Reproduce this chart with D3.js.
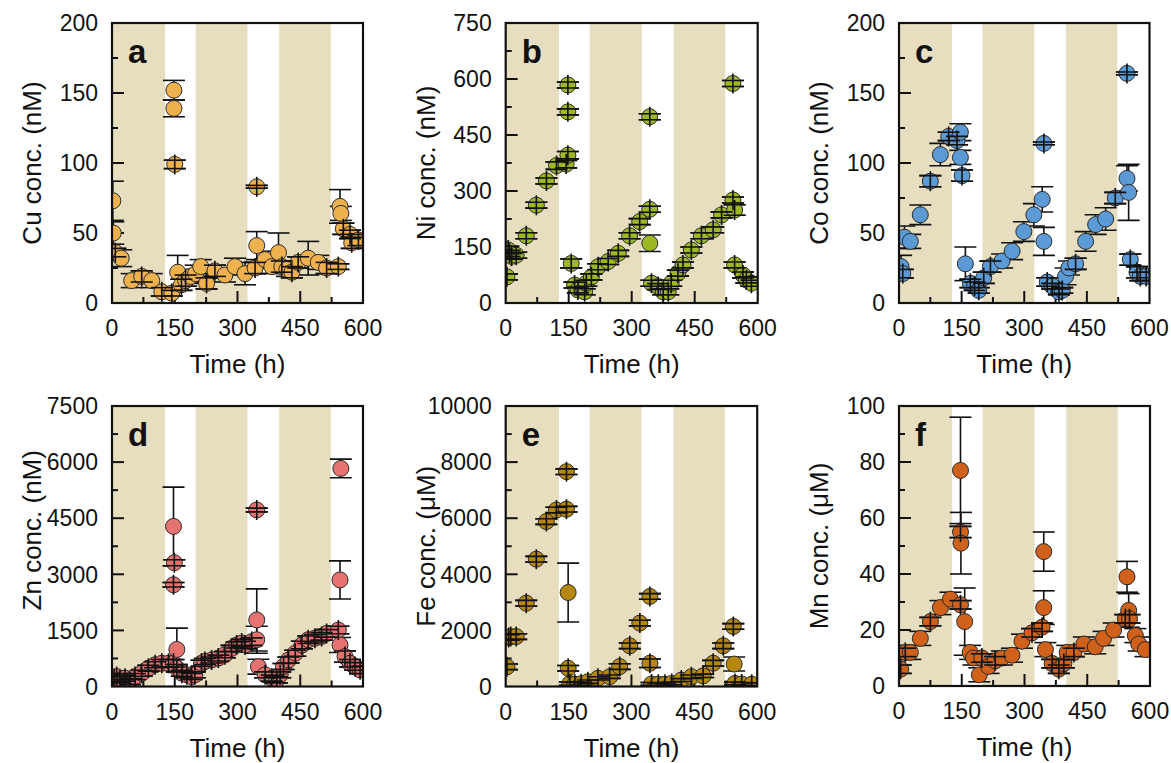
<!DOCTYPE html>
<html><head><meta charset="utf-8">
<script src="https://cdn.jsdelivr.net/npm/d3@7"></script>
<style>
body{margin:0;background:#fff}
svg{display:block}
text{font-family:"Liberation Sans",Arial,sans-serif;fill:#111}
</style>
</head><body>
<svg id="chart" width="1171" height="763"></svg>
<script>
// ---------------- data ----------------
const timeTicks = [0, 150, 300, 450, 600];
const shadedPeriods = [[0, 127], [200, 324], [400, 523]];

const cuTime = [2, 3, 8, 22, 47, 71, 95, 119, 143, 148, 148, 150, 157, 166, 176, 188, 200, 212, 226, 246, 270, 294, 318, 342, 346, 346, 366, 382, 398, 406, 418, 430, 445, 469, 493, 513, 541, 545, 547, 553, 569, 573, 589];
const cuConc = [73, 50, 36, 32, 16, 19, 16, 8, 7, 152, 139, 99, 22, 13, 16, 19, 21, 26, 14, 23, 20, 26, 21, 25, 41, 83, 31, 26, 36, 26, 24, 22, 29, 32, 29, 25, 26, 69, 64, 53, 49, 43, 45];
const cuErr  = [14, 8, 3, 6, 5, 4, 5, 3, 2, 7, 6, 3, 12, 4, 4, 5, 6, 5, 4, 4, 5, 6, 8, 4, 10, 1, 6, 5, 14, 4, 5, 4, 4, 12, 5, 4, 2, 12, 5, 4, 3, 4, 4];

const niTime = [3, 6, 9, 14, 25, 49, 73, 97, 121, 144, 148, 148, 148, 156, 164, 172, 188, 192, 204, 220, 244, 268, 295, 319, 343, 343, 343, 347, 363, 375, 387, 394, 410, 422, 442, 466, 494, 514, 541, 541, 545, 545, 565, 573, 585];
const niConc = [70, 142, 133, 125, 128, 180, 262, 327, 368, 372, 396, 584, 512, 106, 48, 35, 30, 53, 70, 97, 111, 133, 180, 218, 251, 160, 499, 53, 44, 30, 30, 53, 80, 102, 142, 180, 196, 236, 276, 588, 249, 102, 75, 62, 53];
const niErr  = [8, 10, 8, 8, 8, 8, 8, 8, 10, 10, 10, 8, 8, 12, 8, 8, 8, 8, 8, 8, 8, 8, 8, 8, 8, 22, 8, 8, 8, 8, 8, 8, 8, 8, 8, 8, 8, 8, 8, 8, 14, 8, 8, 8, 8];

const coTime = [5, 9, 13, 27, 51, 75, 99, 119, 139, 147, 147, 151, 159, 171, 181, 191, 203, 219, 247, 271, 299, 323, 343, 347, 347, 355, 367, 383, 391, 399, 407, 423, 447, 471, 495, 518, 546, 550, 546, 554, 570, 578, 592];
const coConc = [26, 21, 47, 44, 63, 87, 106, 119, 116, 122, 104, 91, 28, 14, 12, 9, 18, 26, 30, 37, 51, 63, 74, 44, 114, 15, 12, 8, 9, 19, 25, 28, 44, 56, 60, 75, 89, 79, 164, 31, 22, 19, 19];
const coErr  = [8, 3, 8, 5, 7, 4, 8, 3, 3, 6, 5, 4, 12, 3, 3, 2, 4, 4, 5, 6, 7, 8, 9, 10, 1, 3, 2, 2, 2, 6, 5, 4, 7, 7, 8, 4, 9, 20, 1, 4, 4, 3, 3];

const znTime = [5, 11, 19, 31, 43, 55, 71, 87, 103, 119, 135, 147, 147, 149, 147, 155, 155, 167, 179, 190, 198, 214, 222, 238, 254, 270, 286, 298, 310, 318, 334, 346, 346, 346, 350, 366, 382, 394, 402, 410, 422, 438, 454, 469, 485, 501, 513, 541, 545, 547, 545, 557, 569, 581, 593];
const znConc = [200, 267, 178, 223, 134, 267, 356, 490, 580, 620, 620, 620, 4280, 3310, 2720, 990, 490, 356, 312, 267, 312, 620, 670, 710, 760, 850, 1020, 1110, 1160, 1110, 1200, 1250, 1780, 4720, 530, 312, 223, 178, 312, 534, 710, 890, 1110, 1250, 1290, 1340, 1420, 1510, 1110, 5830, 2850, 800, 620, 534, 445];
const znErr  = [80, 80, 80, 80, 80, 80, 80, 80, 80, 100, 100, 100, 1050, 80, 60, 570, 100, 80, 80, 80, 80, 80, 80, 80, 80, 80, 80, 80, 100, 100, 100, 360, 830, 50, 200, 80, 80, 80, 80, 80, 80, 80, 100, 100, 100, 100, 100, 100, 200, 250, 510, 150, 100, 100, 100];

const feTime = [3, 7, 12, 25, 49, 73, 97, 121, 145, 145, 149, 149, 153, 165, 180, 196, 220, 248, 272, 296, 320, 344, 344, 348, 364, 380, 396, 419, 443, 471, 495, 519, 543, 545, 547, 563, 587];
const feConc = [700, 1750, 1780, 1780, 2970, 4540, 5880, 6290, 6320, 7660, 3350, 650, 100, 80, 100, 170, 290, 350, 710, 1450, 2260, 3210, 830, 90, 80, 80, 110, 230, 350, 380, 830, 1450, 2140, 800, 110, 90, 80];
const feErr  = [100, 100, 100, 100, 100, 100, 100, 100, 100, 100, 1050, 100, 60, 60, 60, 60, 60, 60, 100, 100, 100, 100, 150, 50, 50, 50, 50, 50, 60, 60, 100, 100, 100, 250, 50, 50, 50];

const mnTime = [4, 15, 27, 51, 75, 99, 123, 147, 147, 147, 148, 157, 170, 178, 192, 198, 214, 230, 246, 270, 294, 318, 342, 346, 346, 350, 366, 382, 394, 402, 418, 442, 469, 489, 513, 541, 549, 551, 545, 565, 573, 589];
const mnConc = [6, 12, 12, 17, 23, 28, 31, 29, 77, 55, 51, 23, 12, 10, 4, 10, 7, 9, 10, 11, 16, 19, 21, 28, 48, 13, 8, 6, 8, 12, 12, 15, 14, 17, 20, 24, 27, 24, 39, 18, 15, 13];
const mnErr  = [1.5, 1.5, 2.5, 2.5, 1.5, 2.5, 2.5, 1.5, 19, 2, 11, 12, 2.5, 2.5, 2.5, 1.5, 2.5, 1.5, 2.5, 2.5, 2.5, 1.5, 1.5, 6, 7, 2.5, 1.5, 1.5, 1.5, 2.5, 1.5, 2.5, 2.5, 2.5, 2.5, 1.5, 6, 1.5, 5.5, 2.5, 2.5, 2.5];

const cuTicks = [0, 50, 100, 150, 200];
const niTicks = [0, 150, 300, 450, 600, 750];
const coTicks = [0, 50, 100, 150, 200];
const znTicks = [0, 1500, 3000, 4500, 6000, 7500];
const feTicks = [0, 2000, 4000, 6000, 8000, 10000];
const mnTicks = [0, 20, 40, 60, 80, 100];

const panelLetters = ["a", "b", "c", "d", "e", "f"];
const yTitles = ["Cu conc. (nM)", "Ni conc. (nM)", "Co conc. (nM)", "Zn conc. (nM)", "Fe conc. (\u03bcM)", "Mn conc. (\u03bcM)"];

// ---------------- layout / style ----------------
const panels = [
  {t: cuTime, v: cuConc, e: cuErr, ticks: cuTicks, color: "#EFB04E", left: 112,   top: 23,  w: 251, h: 280},
  {t: niTime, v: niConc, e: niErr, ticks: niTicks, color: "#9CB825", left: 505.7, top: 23,  w: 252, h: 280},
  {t: coTime, v: coConc, e: coErr, ticks: coTicks, color: "#5B9AD4", left: 899,   top: 23,  w: 250.5, h: 280},
  {t: znTime, v: znConc, e: znErr, ticks: znTicks, color: "#E77370", left: 112,   top: 406, w: 251, h: 280.5, titleShift: -16},
  {t: feTime, v: feConc, e: feErr, ticks: feTicks, color: "#B5870C", left: 505.7, top: 406, w: 251.5, h: 280.5},
  {t: mnTime, v: mnConc, e: mnErr, ticks: mnTicks, color: "#CF611B", left: 899,   top: 406, w: 251, h: 280}
];

const R = 8, CAP = 11, SHADE = "#E7DEC0";
const svg = d3.select("#chart");

panels.forEach((p, i) => {
  const g = svg.append("g").attr("transform", `translate(${p.left},${p.top})`);
  const x = d3.scaleLinear().domain([0, 600]).range([0, p.w]);
  const yMax = p.ticks[p.ticks.length - 1];
  const y = d3.scaleLinear().domain([0, yMax]).range([p.h, 0]);
  const clipId = "clip" + i;
  g.append("clipPath").attr("id", clipId).append("rect").attr("width", p.w).attr("height", p.h);

  // shading
  g.selectAll("rect.shade").data(shadedPeriods).enter().append("rect")
    .attr("class", "shade")
    .attr("x", d => x(d[0])).attr("width", d => x(d[1]) - x(d[0]))
    .attr("y", 0).attr("height", p.h).attr("fill", SHADE);

  // ticks (inward)
  const step = p.ticks[1] - p.ticks[0];
  const yMinor = d3.range(step / 2, yMax, step);
  const xMinor = d3.range(75, 600, 150);
  const tickG = g.append("g").attr("stroke", "#111").attr("stroke-width", 2);
  tickG.selectAll("line.ym").data(p.ticks.slice(1, -1)).enter().append("line")
    .attr("x1", 0).attr("x2", 12).attr("y1", d => y(d)).attr("y2", d => y(d));
  tickG.selectAll("line.yn").data(yMinor).enter().append("line")
    .attr("x1", 0).attr("x2", 6).attr("y1", d => y(d)).attr("y2", d => y(d));
  tickG.selectAll("line.xm").data(timeTicks.slice(1, -1)).enter().append("line")
    .attr("y1", p.h).attr("y2", p.h - 12).attr("x1", d => x(d)).attr("x2", d => x(d));
  tickG.selectAll("line.xn").data(xMinor).enter().append("line")
    .attr("y1", p.h).attr("y2", p.h - 6).attr("x1", d => x(d)).attr("x2", d => x(d));

  // panel letter
  g.append("text").attr("x", 16).attr("y", 40)
    .attr("font-size", 33).attr("font-weight", "bold").text(panelLetters[i]);

  const pts = p.t.map((t, k) => ({t, v: p.v[k], e: p.e[k]}));
  const data = g.append("g").attr("clip-path", `url(#${clipId})`);

  // error bars (behind symbols)
  const eb = data.append("g").attr("stroke", "#111").attr("stroke-width", 1.6);
  pts.forEach(d => {
    const cx = x(d.t), y1 = y(d.v + d.e), y2 = y(Math.max(d.v - d.e, 0));
    eb.append("line").attr("x1", cx).attr("x2", cx).attr("y1", y1).attr("y2", y2);
    eb.append("line").attr("x1", cx - CAP).attr("x2", cx + CAP).attr("y1", y1).attr("y2", y1);
    eb.append("line").attr("x1", cx - CAP).attr("x2", cx + CAP).attr("y1", y2).attr("y2", y2);
  });

  // symbols
  data.selectAll("circle").data(pts).enter().append("circle")
    .attr("cx", d => x(d.t)).attr("cy", d => y(d.v)).attr("r", R)
    .attr("fill", p.color).attr("stroke", "#2a2a2a").attr("stroke-width", 1);

  // small error bars show through the symbol as a cross
  const cross = data.append("g").attr("stroke", "#111").attr("stroke-width", 1.6);
  pts.filter(d => (y(0) - y(d.e)) <= 6).forEach(d => {
    const cx = x(d.t), cy = y(d.v), ey = y(0) - y(d.e);
    cross.append("line").attr("x1", cx).attr("x2", cx).attr("y1", cy - R - 2).attr("y2", cy + R + 2);
    cross.append("line").attr("x1", cx - CAP).attr("x2", cx + CAP).attr("y1", cy - ey).attr("y2", cy - ey);
    cross.append("line").attr("x1", cx - CAP).attr("x2", cx + CAP).attr("y1", cy + ey).attr("y2", cy + ey);
  });

  // frame
  g.append("rect").attr("width", p.w).attr("height", p.h)
    .attr("fill", "none").attr("stroke", "#111").attr("stroke-width", 2.2);

  // tick labels
  g.selectAll("text.yl").data(p.ticks).enter().append("text")
    .attr("x", -14).attr("y", d => y(d)).attr("dy", "0.36em")
    .attr("text-anchor", "end").attr("font-size", 23).text(d => d);
  g.selectAll("text.xl").data(timeTicks).enter().append("text")
    .attr("x", d => x(d)).attr("y", p.h + 33)
    .attr("text-anchor", "middle").attr("font-size", 23).text(d => d);

  // axis titles
  g.append("text").attr("x", p.w / 2).attr("y", p.h + 70)
    .attr("text-anchor", "middle").attr("font-size", 26).text("Time (h)");
  g.append("text")
    .attr("transform", `translate(-71,${p.h / 2 + (p.titleShift || 0)}) rotate(-90)`)
    .attr("text-anchor", "middle").attr("font-size", 26).text(yTitles[i]);
});
</script>
</body></html>
